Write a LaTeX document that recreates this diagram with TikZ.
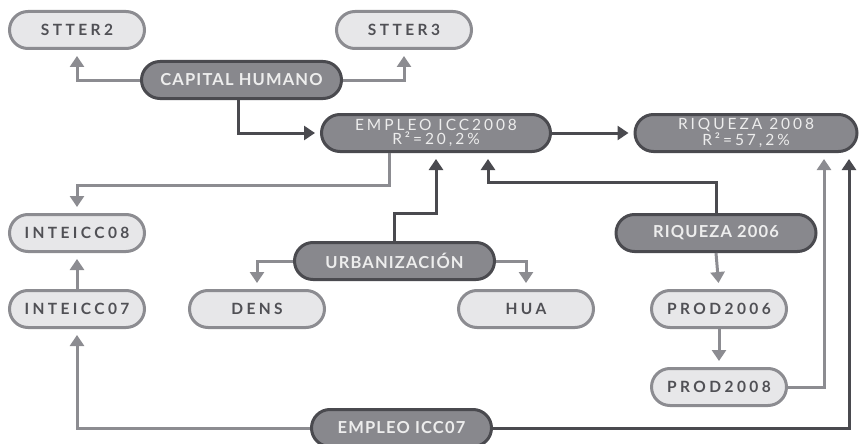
\documentclass[tikz,border=0pt]{standalone}
\usepackage{fontspec}
\setmainfont{Lato}
\newfontfamily\lightfont[LetterSpace=22]{Lato}
\newfontfamily\darkfont[LetterSpace=7]{Lato}
\newfontfamily\twofont[LetterSpace=19]{Lato}
\usetikzlibrary{arrows.meta,calc}
\definecolor{lfill}{HTML}{E7E7E9}
\definecolor{lline}{HTML}{8C8C91}
\definecolor{ltext}{HTML}{505055}
\definecolor{dfill}{HTML}{88888D}
\definecolor{dline}{HTML}{4A4A4F}
\definecolor{dtext}{HTML}{EDEDED}
\tikzset{
  lbox/.style={draw=lline, fill=lfill, line width=3pt, rounded corners=18.5pt,
    minimum width=135pt, minimum height=37pt, inner sep=0pt,
    text=ltext, font=\lightfont\bfseries\fontsize{15.5pt}{17pt}\selectfont},
  dbox/.style={draw=dline, fill=dfill, line width=3pt, rounded corners=18.5pt,
    minimum width=200pt, minimum height=37pt, inner sep=0pt,
    text=dtext, font=\darkfont\bfseries\fontsize{16.5pt}{18pt}\selectfont},
  tbox/.style={dbox, align=center, font=\twofont\fontsize{15.5pt}{12pt}\selectfont},
  tip/.style={-{Triangle[width=14pt,length=11pt]}},
  lc/.style={draw=lline, line width=3pt, tip, shorten >=6pt},
  dc/.style={draw=dline, line width=3pt, tip, shorten >=6pt},
}
\begin{document}
\begin{tikzpicture}[x=1pt,y=-1pt]
\useasboundingbox (0,0) rectangle (859,444);
\clip (0,0) rectangle (859,444);
\node[lbox] (st2) at (77,30) {STTER2};
\node[lbox] (st3) at (404,30) {STTER3};
\node[dbox] (cap) at (241.5,80) {CAPITAL HUMANO};
\node[tbox, minimum width=229pt] (e08) at (436,133) {EMPLEO\ ICC2008\\R²=20,2\%};
\node[tbox, minimum width=222pt] (r08) at (746,133) {RIQUEZA\ 2008\\R²=57,2\%};
\node[lbox] (i08) at (77,233) {INTEICC08};
\node[dbox] (urb) at (394.5,261) {URBANIZACIÓN};
\node[dbox] (r06) at (716,233) {RIQUEZA 2006};
\node[lbox] (i07) at (77,309) {INTEICC07};
\node[lbox] (dens) at (257,309) {DENS};
\node[lbox] (hua) at (526,309) {HUA};
\node[lbox] (p06) at (719,309) {PROD2006};
\node[lbox] (p08) at (719,387) {PROD2008};
\node[dbox, minimum width=180pt] (e07) at (401.5,428) {EMPLEO ICC07};

\draw[lc] (cap.west) -| (st2.south);
\draw[lc] (cap.east) -| (st3.south);
\draw[dc, shorten >=5pt] ([xshift=-3pt]cap.south) |- (e08.west);
\draw[dc, shorten >=5pt] (e08.east) -- (r08.west);
\draw[lc] ([xshift=-47pt]e08.south) -- ++(0,32) -| (i08.north);
\draw[dc] (urb.north) -- ++(0,-28) -| (e08.south);
\draw[dc] (r06.north) -- ++(0,-31) -| ([xshift=52pt]e08.south);
\draw[lc] (urb.west) -| (dens.north);
\draw[lc] (urb.east) -| (hua.north);
\draw[lc] (i07.north) -- (i08.south);
\draw[lc] (e07.west) -| (i07.south);
\draw[dc] (e07.east) -| ([xshift=103pt]r08.south);
\draw[lc] (p08.east) -| ([xshift=78pt]r08.south);
\draw[lc] (r06.south) -- (p06.north);
\draw[lc] (p06.south) -- (p08.north);
\end{tikzpicture}
\end{document}
